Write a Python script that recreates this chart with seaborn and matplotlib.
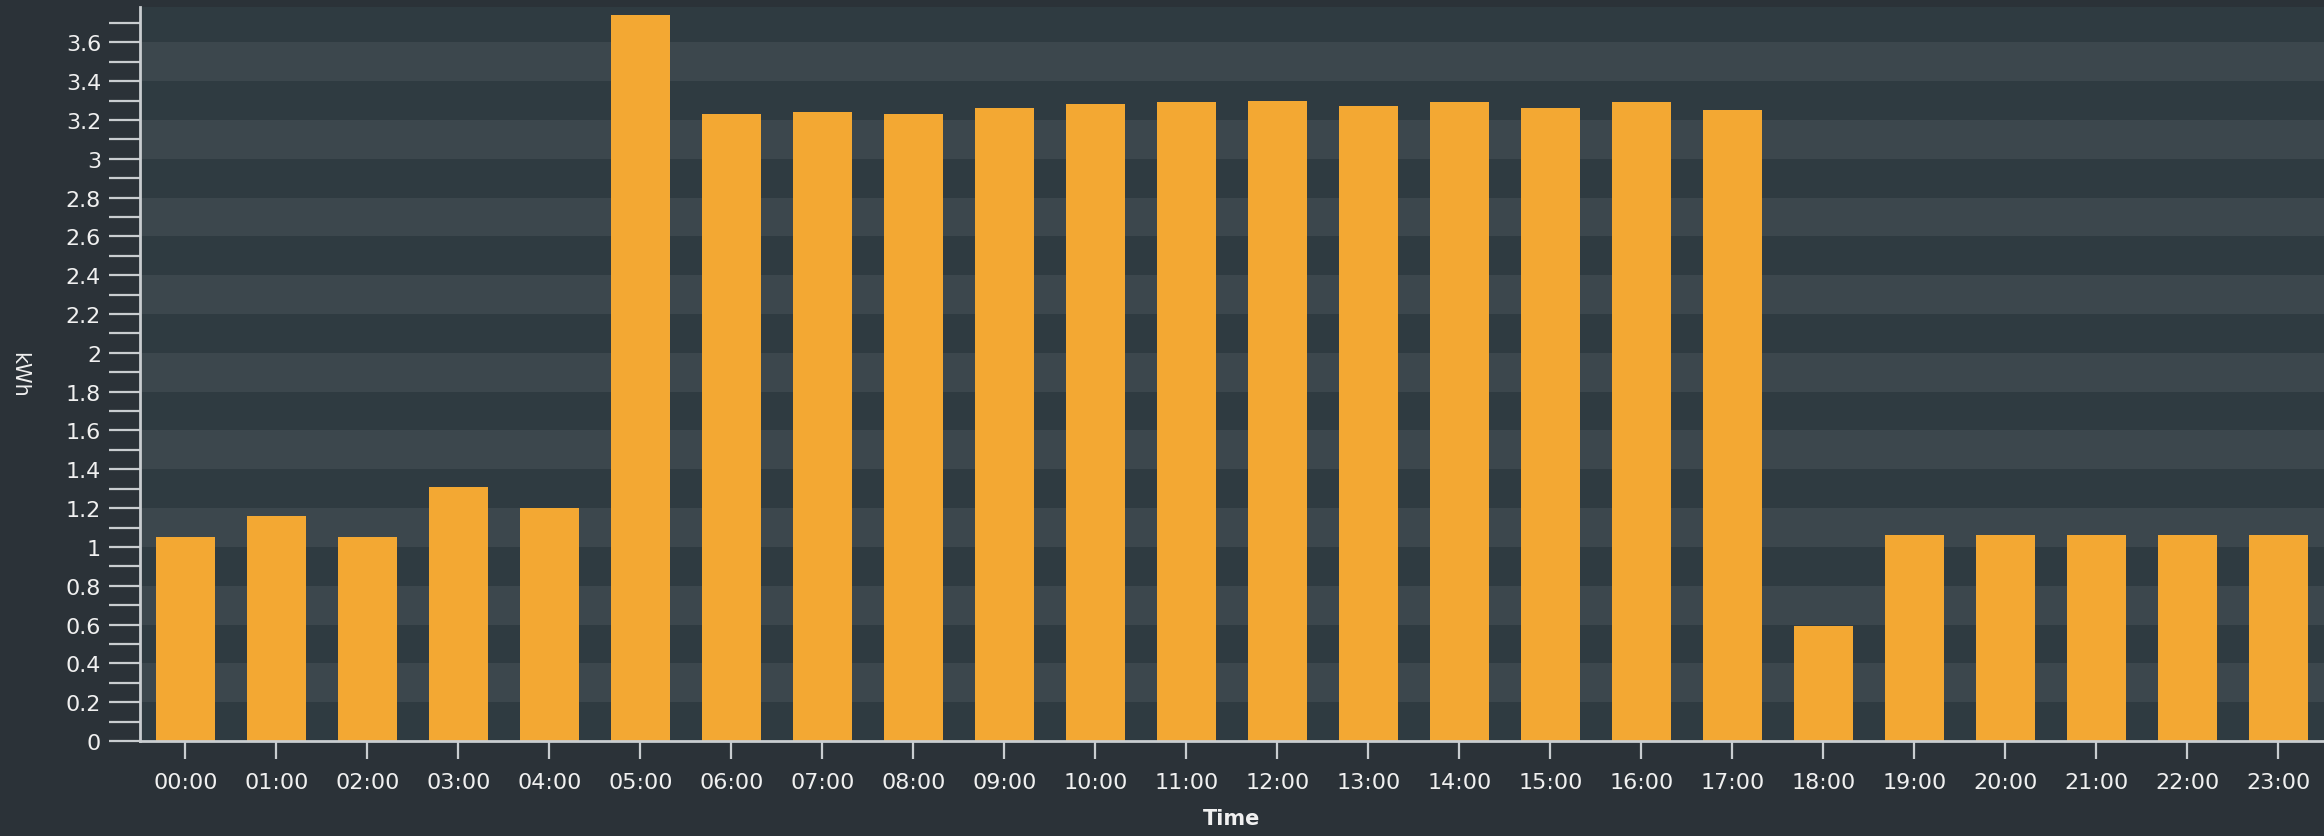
import numpy as np
import pandas as pd
import matplotlib
matplotlib.use("Agg")
import matplotlib.pyplot as plt
from matplotlib.ticker import MultipleLocator
import seaborn as sns

# datos (kWh por hora)
horas = ["%02d:00" % h for h in range(24)]
kwh = [1.05, 1.16, 1.05, 1.31, 1.20, 3.74, 3.23, 3.24, 3.23, 3.26, 3.28, 3.29,
       3.30, 3.27, 3.29, 3.26, 3.29, 3.25, 0.59, 1.06, 1.06, 1.06, 1.06, 1.06]

fondo = "#2b3238"
fondo_ejes = "#2f3b41"
franja = "#3c474d"
naranja = "#f3a833"
texto = "#f0f0f0"
linea = "#c9cdd0"

sns.set_style("dark")
plt.rcParams["font.family"] = ["DejaVu Sans"]

df = pd.DataFrame({"Time": horas, "kWh": kwh})

fig = plt.figure(figsize=(23.24, 8.37), dpi=100, facecolor=fondo)
ax = fig.add_axes([0.0602, 0.1135, 0.9398, 0.8765])
ax.set_facecolor(fondo_ejes)

sns.barplot(data=df, x="Time", y="kWh", color=naranja, width=0.65,
            saturation=1, linewidth=0, ax=ax, zorder=3)

ax.set_ylim(0, 3.78)
ax.set_xlim(-0.5, 23.5)

# franjas alternas del fondo
for y0 in np.arange(0.2, 3.6, 0.4):
    ax.axhspan(y0, y0 + 0.2, color=franja, zorder=0, lw=0)

ax.set_yticks(np.arange(0, 3.61, 0.2))
ax.set_yticklabels(["%g" % round(v, 1) for v in np.arange(0, 3.61, 0.2)])
ax.yaxis.set_minor_locator(MultipleLocator(0.1))

ax.tick_params(axis="y", which="both", direction="out", length=22, width=1.6,
               color=linea, labelcolor=texto, labelsize=16, pad=6, left=True)
ax.tick_params(axis="x", which="major", direction="out", length=13, width=1.6,
               color=linea, labelcolor=texto, labelsize=16, pad=9, bottom=True)

for lado in ["top", "right"]:
    ax.spines[lado].set_visible(False)
for lado in ["left", "bottom"]:
    ax.spines[lado].set_visible(True)
    ax.spines[lado].set_color(linea)
    ax.spines[lado].set_linewidth(2)
    ax.spines[lado].set_zorder(5)

ax.grid(False)
ax.set_xlabel("Time", color=texto, fontsize=15, fontweight="semibold", labelpad=12)
ax.set_ylabel("kWh", color=texto, fontsize=15, rotation=270)
ax.yaxis.set_label_coords(-0.060, 0.5)

fig.savefig("out.png", dpi=100, facecolor=fondo)
